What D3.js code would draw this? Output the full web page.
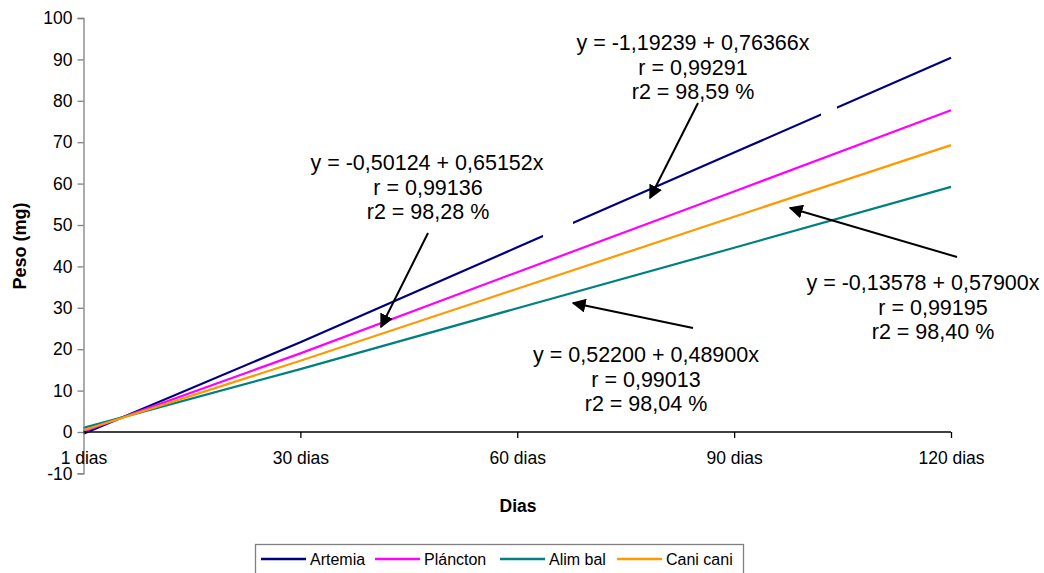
<!DOCTYPE html>
<html><head><meta charset="utf-8">
<script src="https://cdn.jsdelivr.net/npm/d3@7"></script>
<style>
html,body{margin:0;padding:0;background:#fff;}
svg{display:block;font-family:"Liberation Sans",Arial,sans-serif;}
</style></head>
<body>
<svg id="chart" width="1044" height="573"></svg>
<script>
const categories = ["1 dias", "30 dias", "60 dias", "90 dias", "120 dias"];
const artemia  = [-0.43, 21.7, 44.6, 67.5, 90.4];
const plancton = [0.15, 19.0, 38.6, 58.1, 77.7];
const alimBal  = [1.0, 15.2, 29.9, 44.5, 59.2];
const caniCani = [0.44, 17.2, 34.6, 52.0, 69.3];
const seriesNames = ["Artemia", "Pláncton", "Alim bal", "Cani cani"];
const yTicks = [-10, 0, 10, 20, 30, 40, 50, 60, 70, 80, 90, 100];
const annotations = [
  ["y = -1,19239 + 0,76366x", "r = 0,99291", "r2 = 98,59 %"],
  ["y = -0,50124 + 0,65152x", "r = 0,99136", "r2 = 98,28 %"],
  ["y = 0,52200 + 0,48900x", "r = 0,99013", "r2 = 98,04 %"],
  ["y = -0,13578 + 0,57900x", "r = 0,99195", "r2 = 98,40 %"]
];

const colors = ["#000080", "#FF00FF", "#008080", "#FF9900"];
const allSeries = [artemia, plancton, alimBal, caniCani];

const svg = d3.select("#chart");
const x = d3.scalePoint().domain(categories).range([83.5, 951]);
const y = d3.scaleLinear().domain([-10, 100]).range([473.4, 18]);

// Lines
const line = d3.line().x((d, i) => x(categories[i])).y(d => y(d));
allSeries.forEach((s, k) => {
  svg.append("path").datum(s).attr("d", line)
    .attr("fill", "none").attr("stroke", colors[k]).attr("stroke-width", 2.2);
});

// white text-box remnants covering the Artemia line
[[543, 221, 30, 17], [821, 105, 16, 13]].forEach(r => {
  svg.append("rect").attr("x", r[0]).attr("y", r[1]).attr("width", r[2]).attr("height", r[3]).attr("fill", "#fff");
});

// Y axis
const yAxis = d3.axisLeft(y).tickValues(yTicks).tickSize(6).tickPadding(5).tickFormat(d => String(d));
const gy = svg.append("g").attr("transform", "translate(83.5,0)").call(yAxis);
gy.select(".domain").attr("stroke", "#808080").attr("stroke-width", 1.3);
gy.selectAll(".tick line").attr("stroke", "#808080").attr("stroke-width", 1.3);
gy.selectAll("text").attr("font-size", 17.5).attr("fill", "#000").attr("font-family", "Liberation Sans, Arial, sans-serif");

// X axis at y=0
const xAxis = d3.axisBottom(x).tickSize(6).tickPadding(14).tickSizeOuter(0);
const gx = svg.append("g").attr("transform", `translate(0,${y(0)})`).call(xAxis);
gx.select(".domain").attr("stroke", "#000").attr("stroke-width", 1.3).attr("d", `M${x(categories[0])},0H${x(categories[categories.length-1])}`);
gx.selectAll(".tick line").attr("stroke", "#000").attr("stroke-width", 1.3);
gx.selectAll(".tick").filter((d, i) => i === 0).select("line").remove();
gx.selectAll("text").attr("font-size", 17.5).attr("fill", "#000").attr("font-family", "Liberation Sans, Arial, sans-serif");

// axis titles
svg.append("text").attr("x", 518).attr("y", 506).attr("text-anchor", "middle").attr("dominant-baseline", "central")
  .attr("font-size", 17.5).attr("font-weight", "bold").text("Dias");
svg.append("text").attr("transform", "translate(20,246) rotate(-90)").attr("text-anchor", "middle").attr("dominant-baseline", "central")
  .attr("font-size", 18).attr("font-weight", "bold").text("Peso (mg)");

// arrows
const defs = svg.append("defs");
defs.append("marker").attr("id", "ah").attr("viewBox", "0 0 10 10").attr("refX", 9).attr("refY", 5)
  .attr("markerWidth", 7).attr("markerHeight", 7).attr("markerUnits", "strokeWidth").attr("orient", "auto")
  .append("path").attr("d", "M0,0L10,5L0,10Z").attr("fill", "#000");
const arrows = [[698, 103, 650, 198], [428, 233, 381, 327], [693, 328, 573, 303], [957, 257, 790, 208]];
arrows.forEach(a => {
  svg.append("line").attr("x1", a[0]).attr("y1", a[1]).attr("x2", a[2]).attr("y2", a[3])
    .attr("stroke", "#000").attr("stroke-width", 2).attr("marker-end", "url(#ah)");
});

// annotation text (per-line centre x)
const annX = [[693, 693, 693], [427, 428, 428], [646, 646, 646], [923, 933, 933]];
const annY = [43, 163, 355, 283];
annotations.forEach((lines, k) => {
  const t = svg.append("text").attr("text-anchor", "middle").attr("font-size", 21.5).attr("fill", "#000");
  lines.forEach((s, j) => {
    t.append("tspan").attr("x", annX[k][j]).attr("y", annY[k] + j * 24.5).attr("dominant-baseline", "central").text(s);
  });
});

// legend
const lg = svg.append("g");
lg.append("rect").attr("x", 255.5).attr("y", 544.5).attr("width", 488).attr("height", 40)
  .attr("fill", "#fff").attr("stroke", "#808080").attr("stroke-width", 1.3);
const legX = [261, 375, 500, 617];
seriesNames.forEach((n, k) => {
  lg.append("line").attr("x1", legX[k]).attr("x2", legX[k] + 45).attr("y1", 559).attr("y2", 559)
    .attr("stroke", colors[k]).attr("stroke-width", 2.5);
  lg.append("text").attr("x", legX[k] + 49).attr("y", 559).attr("dominant-baseline", "central")
    .attr("font-size", 16).attr("fill", "#000").text(n);
});
</script>
</body></html>
